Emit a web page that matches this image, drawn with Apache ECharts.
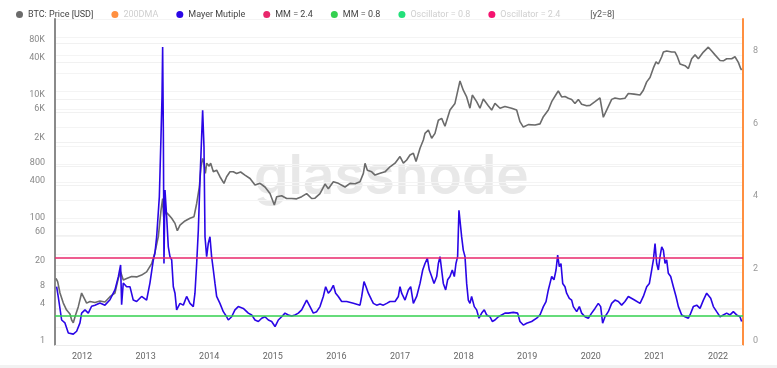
<!DOCTYPE html>
<html>
<head>
<meta charset="utf-8">
<style>
html,body{margin:0;padding:0;background:#fff;}
#chart{width:777px;height:368px;}
</style>
<script src="https://cdn.jsdelivr.net/npm/echarts@6.0.0/dist/echarts.min.js"></script>
</head>
<body>
<div id="chart"></div>
<script>
// ---- data (decimal year, value) ----
const priceT = [2011.591,2011.617,2011.654,2011.706,2011.758,2011.811,2011.837,2011.863,2011.900,2011.942,2011.994,2012.020,2012.073,2012.125,2012.204,2012.282,2012.361,2012.440,2012.518,2012.571,2012.607,2012.649,2012.702,2012.780,2012.859,2012.937,2013.016,2013.095,2013.147,2013.200,2013.242,2013.268,2013.284,2013.315,2013.357,2013.410,2013.462,2013.499,2013.541,2013.619,2013.698,2013.761,2013.803,2013.845,2013.871,2013.897,2013.915,2013.940,2013.960,2014.000,2014.023,2014.065,2014.117,2014.169,2014.232,2014.274,2014.327,2014.379,2014.431,2014.494,2014.562,2014.642,2014.720,2014.799,2014.877,2014.956,2015.024,2015.061,2015.139,2015.218,2015.297,2015.375,2015.454,2015.532,2015.611,2015.663,2015.742,2015.821,2015.873,2015.952,2016.030,2016.136,2016.214,2016.293,2016.371,2016.424,2016.450,2016.487,2016.555,2016.607,2016.686,2016.764,2016.843,2016.922,2017.000,2017.053,2017.105,2017.157,2017.210,2017.252,2017.315,2017.367,2017.393,2017.446,2017.498,2017.550,2017.603,2017.655,2017.707,2017.786,2017.864,2017.943,2017.995,2018.048,2018.100,2018.137,2018.205,2018.257,2018.310,2018.388,2018.441,2018.493,2018.572,2018.650,2018.755,2018.834,2018.886,2018.939,2019.017,2019.123,2019.201,2019.254,2019.332,2019.385,2019.463,2019.489,2019.542,2019.594,2019.647,2019.699,2019.751,2019.804,2019.856,2019.935,2019.987,2020.066,2020.144,2020.197,2020.249,2020.328,2020.380,2020.459,2020.537,2020.590,2020.680,2020.774,2020.826,2020.879,2020.931,2020.984,2021.026,2021.062,2021.115,2021.141,2021.193,2021.272,2021.324,2021.361,2021.403,2021.481,2021.534,2021.586,2021.639,2021.691,2021.770,2021.848,2021.901,2021.953,2022.032,2022.084,2022.136,2022.215,2022.267,2022.320,2022.356,2022.372];
const priceV = [12.1,10.7,7.0,4.8,3.7,3.2,2.55,2.3,3.1,4.2,7.0,6.6,4.8,5.1,4.9,5.2,5.0,6.1,7.0,12.1,15.5,11.4,12.1,13.0,12.8,13.7,15.5,21,32,58,155,240,122,146,133,115,95,72,89,104,115,122,200,371,790,1080,930,615,905,810,905,655,696,545,425,545,655,655,615,650,580,510,400,425,371,290,189,258,267,241,241,238,258,290,241,244,290,414,348,452,425,371,425,418,451,618,900,696,655,580,618,655,790,905,1160,905,1020,1230,1310,963,1580,2150,2760,3130,2300,2760,4520,4840,3600,6610,8470,19700,13900,10800,7080,11600,9050,7080,9980,7770,6610,8470,7080,7540,7080,6610,4290,3500,3830,3770,3940,5160,6610,9050,12300,13500,10800,11000,10300,9860,8470,9860,8240,7770,7890,9050,10400,5050,6610,9860,10400,9980,10300,12300,12000,11600,13900,19000,22400,32000,40100,37100,48700,58000,60300,58000,58000,48700,37100,34800,31300,45200,52200,45200,58000,69600,60300,52200,42300,41800,45200,45200,48700,39400,31300,29600];

const mmT = [2011.601,2011.627,2011.680,2011.732,2011.785,2011.863,2011.916,2011.968,2011.994,2012.047,2012.099,2012.151,2012.204,2012.282,2012.361,2012.440,2012.518,2012.571,2012.607,2012.623,2012.649,2012.702,2012.754,2012.806,2012.859,2012.937,2013.016,2013.068,2013.121,2013.147,2013.174,2013.216,2013.242,2013.258,2013.268,2013.279,2013.289,2013.305,2013.331,2013.357,2013.383,2013.410,2013.436,2013.462,2013.488,2013.514,2013.541,2013.593,2013.645,2013.698,2013.750,2013.776,2013.803,2013.829,2013.855,2013.881,2013.897,2013.918,2013.934,2013.960,2013.986,2014.012,2014.038,2014.065,2014.091,2014.117,2014.169,2014.222,2014.274,2014.300,2014.353,2014.405,2014.457,2014.536,2014.615,2014.668,2014.720,2014.773,2014.825,2014.877,2014.930,2014.982,2015.035,2015.061,2015.087,2015.139,2015.192,2015.244,2015.297,2015.349,2015.401,2015.454,2015.506,2015.532,2015.585,2015.637,2015.690,2015.742,2015.794,2015.831,2015.873,2015.915,2015.952,2015.988,2016.030,2016.083,2016.109,2016.162,2016.267,2016.371,2016.398,2016.434,2016.466,2016.502,2016.555,2016.581,2016.633,2016.686,2016.738,2016.791,2016.843,2016.922,2016.974,2017.000,2017.026,2017.079,2017.131,2017.168,2017.210,2017.262,2017.315,2017.357,2017.393,2017.430,2017.461,2017.498,2017.535,2017.577,2017.603,2017.629,2017.655,2017.681,2017.718,2017.749,2017.786,2017.822,2017.854,2017.880,2017.906,2017.927,2017.943,2017.969,2017.995,2018.022,2018.048,2018.074,2018.100,2018.126,2018.168,2018.205,2018.242,2018.284,2018.325,2018.362,2018.415,2018.451,2018.493,2018.546,2018.598,2018.650,2018.703,2018.781,2018.850,2018.886,2018.939,2018.991,2019.070,2019.096,2019.149,2019.201,2019.254,2019.296,2019.332,2019.358,2019.385,2019.421,2019.453,2019.479,2019.505,2019.531,2019.558,2019.594,2019.620,2019.662,2019.699,2019.725,2019.778,2019.820,2019.856,2019.909,2019.961,2020.013,2020.066,2020.118,2020.155,2020.186,2020.223,2020.275,2020.328,2020.380,2020.433,2020.485,2020.537,2020.590,2020.680,2020.774,2020.826,2020.879,2020.921,2020.957,2020.984,2021.010,2021.036,2021.062,2021.088,2021.115,2021.141,2021.167,2021.193,2021.219,2021.256,2021.298,2021.340,2021.377,2021.429,2021.481,2021.534,2021.560,2021.612,2021.665,2021.717,2021.770,2021.822,2021.848,2021.885,2021.927,2021.979,2022.032,2022.084,2022.136,2022.189,2022.241,2022.293,2022.346,2022.372];
const mmV = [1.61,1.33,0.69,0.61,0.33,0.30,0.38,0.61,0.88,0.97,0.88,1.07,1.10,1.16,1.10,1.25,1.52,1.88,2.21,1.11,1.71,1.61,1.61,1.24,1.20,1.34,1.24,1.71,2.34,2.54,2.99,4.09,5.75,6.85,8.23,5.93,2.25,4.28,3.54,2.71,2.44,2.35,1.61,1.43,0.97,1.06,1.15,1.10,1.34,1.15,1.06,1.43,2.25,3.17,4.55,5.75,6.48,5.47,2.99,2.44,2.81,2.99,2.44,2.07,1.70,1.34,1.15,0.92,0.78,0.69,0.78,0.97,1.06,1.01,0.88,0.83,0.69,0.65,0.74,0.78,0.69,0.65,0.51,0.60,0.69,0.78,0.88,0.83,0.80,0.83,0.88,0.97,1.15,1.24,1.06,0.88,0.92,1.06,1.34,1.61,1.43,1.52,1.65,1.43,1.34,1.20,1.24,1.20,1.15,1.10,1.34,1.75,1.61,1.43,1.24,1.15,1.10,1.13,1.10,1.15,1.20,1.20,1.34,1.61,1.43,1.24,1.52,1.61,1.15,1.34,1.70,2.07,2.25,2.39,2.07,1.89,1.70,1.89,2.25,2.44,2.07,1.70,1.52,1.80,1.89,2.07,1.89,2.25,2.44,3.72,3.77,2.99,2.62,2.44,1.70,1.24,1.15,1.34,1.06,0.97,0.74,0.88,0.97,0.83,0.78,0.65,0.69,0.78,0.83,0.88,0.88,0.90,0.88,0.65,0.55,0.60,0.65,0.65,0.74,0.83,1.06,1.20,1.52,1.70,1.89,1.80,2.07,2.48,2.16,2.25,1.70,1.61,1.43,1.29,1.24,1.06,0.92,1.06,0.88,0.78,0.74,0.88,1.01,1.15,1.06,0.60,0.78,0.92,1.15,1.24,1.20,1.10,1.20,1.34,1.25,1.15,1.34,1.61,1.70,2.07,2.35,2.80,2.25,2.07,2.44,2.71,2.62,2.25,2.35,1.98,1.89,1.61,1.34,1.06,0.83,0.78,0.74,0.83,1.06,1.10,1.01,1.24,1.43,1.39,1.29,1.06,0.92,0.78,0.83,0.88,0.83,0.92,0.83,0.78,0.65];

const mmHigh = 2.4, mmLow = 0.8;
const xStart = 2011.5755, xEnd = 2022.393;
const yearTicks = [2012,2013,2014,2015,2016,2017,2018,2019,2020,2021,2022];
const priceTicks = [1,4,8,20,60,100,400,800,2000,6000,10000,40000,80000];
const mmTicks = [0,2,4,6,8];
const mmGrid = [0,0.5,1,1.5,2,2.5,3,3.5,4,4.5,5,5.5,6,6.5,7,7.5,8,8.5,9];

const zip = (a,b) => a.map((t,i)=>[t,b[i]]);
const FONT = 'Roboto, "Noto Sans", sans-serif';
const fmtPrice = v => v >= 1000 ? (Math.round(v/1000)) + 'K' : String(Math.round(v));

const chart = echarts.init(document.getElementById('chart'), null, {renderer:'canvas'});
chart.setOption({
  animation:false,
  backgroundColor:'#ffffff',
  textStyle:{fontFamily:FONT},
  graphic:[
    {type:'text', left:254, top:150, z:-1, silent:true,
     style:{text:'glassnode', font:'600 55px Inter, sans-serif', fill:'#e8e8e8'}},
    {type:'rect', left:0, top:365, z:-1, silent:true, shape:{width:777,height:3}, style:{fill:'#f2f2f2'}}
  ],
  legend:{
    left:11, top:5, itemWidth:7, itemHeight:7, itemGap:18, icon:'circle',
    textStyle:{fontSize:9, color:'#444', fontFamily:FONT},
    data:[
      {name:'BTC: Price [USD]'},
      {name:'200DMA', textStyle:{color:'#cfcfcf'}},
      {name:'Mayer Mutiple'},
      {name:'MM = 2.4'},
      {name:'MM = 0.8'},
      {name:'Oscillator = 0.8', textStyle:{color:'#cfcfcf'}},
      {name:'Oscillator = 2.4', textStyle:{color:'#cfcfcf'}},
      {name:'[y2=8]', icon:'none', textStyle:{color:'#555'}}
    ]
  },
  grid:{left:55, right:34, top:19, bottom:23, containLabel:false},
  xAxis:{
    type:'value', min:xStart, max:xEnd,
    axisLine:{show:true, lineStyle:{color:'#ececec', width:1}},
    axisTick:{show:false},
    splitLine:{show:false},
    axisLabel:{customValues:yearTicks, formatter:v=>String(Math.round(v)), color:'#666', fontSize:9, margin:7, fontFamily:FONT}
  },
  yAxis:[
    {type:'log', logBase:10, min:1, max:200000, position:'left',
     axisLine:{show:true, lineStyle:{color:'#8a8a8a', width:2}},
     axisTick:{show:false, customValues:priceTicks},
     splitLine:{show:true, lineStyle:{color:'#f1f1f1', width:1}},
     axisLabel:{customValues:priceTicks, formatter:fmtPrice, color:'#888', fontSize:9, margin:10, verticalAlign:'bottom', lineHeight:8, fontFamily:FONT}
    },
    {type:'value', min:0, max:9, position:'right',
     axisLine:{show:true, lineStyle:{color:'#ff8f40', width:2}},
     axisTick:{show:false, customValues:mmGrid},
     splitLine:{show:true, lineStyle:{color:'#f4f4f4', width:1}},
     axisLabel:{customValues:mmTicks, color:'#999', fontSize:9, margin:10, verticalAlign:'bottom', lineHeight:8, fontFamily:FONT}
    }
  ],
  series:[
    {name:'BTC: Price [USD]', type:'line', yAxisIndex:0, data:zip(priceT,priceV), showSymbol:false,
     lineStyle:{color:'#6b6b6b', width:1.6}, itemStyle:{color:'#6b6b6b'}, z:3},
    {name:'200DMA', type:'line', yAxisIndex:1, data:[], itemStyle:{color:'#ff8f40'}},
    {name:'Mayer Mutiple', type:'line', yAxisIndex:1, data:zip(mmT,mmV), showSymbol:false,
     lineStyle:{color:'#2a06e6', width:1.6}, itemStyle:{color:'#2a06e6'}, z:4},
    {name:'MM = 2.4', type:'line', yAxisIndex:1, data:[[xStart,mmHigh],[xEnd,mmHigh]], showSymbol:false,
     lineStyle:{color:'#e8276b', width:1.5}, itemStyle:{color:'#e8276b'}, z:5},
    {name:'MM = 0.8', type:'line', yAxisIndex:1, data:[[xStart,mmLow],[xEnd,mmLow]], showSymbol:false,
     lineStyle:{color:'#33d04f', width:1.5}, itemStyle:{color:'#33d04f'}, z:5},
    {name:'Oscillator = 0.8', type:'line', yAxisIndex:1, data:[], itemStyle:{color:'#22e07a'}},
    {name:'Oscillator = 2.4', type:'line', yAxisIndex:1, data:[], itemStyle:{color:'#f5136f'}},
    {name:'[y2=8]', type:'line', yAxisIndex:1, data:[], itemStyle:{color:'#555'}}
  ]
});
</script>
</body>
</html>
